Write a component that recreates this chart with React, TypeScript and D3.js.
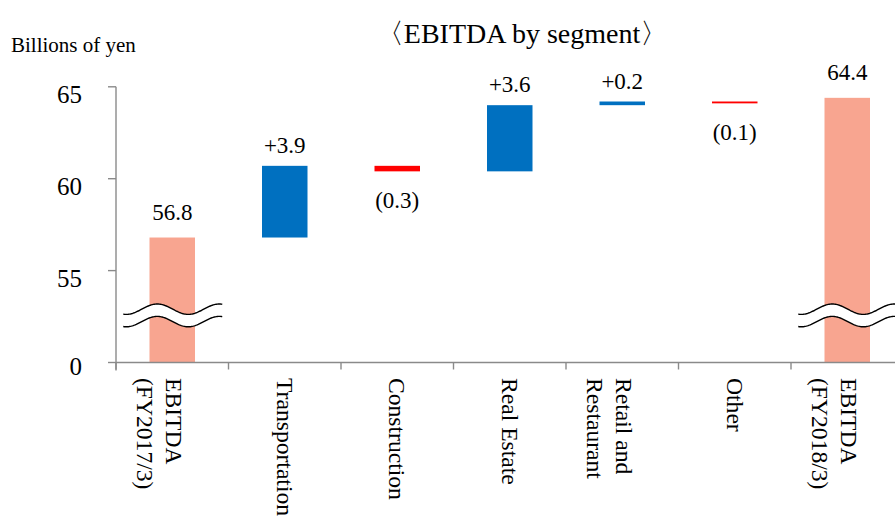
import React from "react";
import * as d3 from "d3";

const categories: string[][] = [
  ["EBITDA", "(FY2017/3)"],
  ["Transportation"],
  ["Construction"],
  ["Real Estate"],
  ["Retail and", "Restaurant"],
  ["Other"],
  ["EBITDA", "(FY2018/3)"],
];
const values: number[] = [56.8, 3.9, -0.3, 3.6, 0.2, -0.1, 64.4];
const isTotal: boolean[] = [true, false, false, false, false, false, true];
const valueLabels: string[] = ["56.8", "+3.9", "(0.3)", "+3.6", "+0.2", "(0.1)", "64.4"];
const yTickValues: number[] = [50, 55, 60, 65];
const yTickLabels: string[] = ["0", "55", "60", "65"];
const axisBase = 50; // broken axis: "0" drawn at 50
const breakValue = 52.9;

const W = 895;
const H = 516;
const FONT = '"Liberation Serif", "Times New Roman", serif';
const AXIS = "#8a8a8a";
const SALMON = "#f8a590";
const BLUE = "#0070c0";
const RED = "#ff0000";

export default function App() {
  const x0 = 116;
  const step = 112.5;
  const x = d3
    .scaleBand<number>()
    .domain(d3.range(categories.length))
    .range([x0, x0 + step * categories.length])
    .paddingInner(0)
    .paddingOuter(0);
  const y = d3.scaleLinear().domain([axisBase, 65]).range([362.5, 86.8]);
  const barW = 45.5;

  let run = 0;
  const segs = values.map((v, i) => {
    if (isTotal[i]) {
      run = v;
      return { lo: axisBase, hi: v, color: SALMON, v };
    }
    const start = run;
    run = run + v;
    return {
      lo: Math.min(start, run),
      hi: Math.max(start, run),
      color: v >= 0 ? BLUE : RED,
      v,
    };
  });

  const baseY = y(axisBase);

  const wave = (c: number) => {
    const x1 = c - 49;
    const x2 = c + 50;
    const mid = y(breakValue);
    const gap = 12.4;
    const A = 5.2;
    const ph = c - 46;
    const up = d3.range(x1, x2 + 0.01, 1).map(
      (xx) => [xx, mid + A * Math.cos((2 * Math.PI * (xx - ph)) / 62)] as [number, number]
    );
    const line = d3.line();
    const low = up.map(([a, b]) => [a, b + gap] as [number, number]);
    const area = d3
      .area<[number, number]>()
      .x((d) => d[0])
      .y0((d) => d[1])
      .y1((d) => d[1] + gap);
    return (
      <g key={"w" + c}>
        <path d={area(up) || ""} fill="#ffffff" />
        <path d={line(up) || ""} fill="none" stroke="#000" strokeWidth={1.4} />
        <path d={line(low) || ""} fill="none" stroke="#000" strokeWidth={1.4} />
      </g>
    );
  };

  return (
    <svg
      width={W}
      height={H}
      style={{ position: "absolute", left: 0, top: 0, background: "#fff" }}
      fontFamily={FONT}
    >
      <rect x={0} y={0} width={W} height={H} fill="#fff" />
      <text x={522} y={43} textAnchor="middle" fontSize={28} fill="#000">
        〈EBITDA by segment〉
      </text>
      <text x={11} y={52} fontSize={21} fill="#000">
        Billions of yen
      </text>

      {segs.map((s, i) => {
        const cx = (x(i) as number) + x.bandwidth() / 2;
        return (
          <rect
            key={"b" + i}
            x={cx - barW / 2}
            y={y(s.hi)}
            width={barW}
            height={Math.max(y(s.lo) - y(s.hi), 0)}
            fill={s.color}
          />
        );
      })}

      {[0, categories.length - 1].map((i) =>
        wave((x(i) as number) + x.bandwidth() / 2)
      )}

      {segs.map((s, i) => {
        const cx = (x(i) as number) + x.bandwidth() / 2;
        let ty: number;
        if (isTotal[i]) ty = y(s.hi) - 18;
        else if (s.v >= 0) ty = y(s.hi) - 13;
        else ty = y(s.lo) + 37;
        return (
          <text
            key={"l" + i}
            x={cx}
            y={ty}
            textAnchor="middle"
            fontSize={23}
            fill="#000"
          >
            {valueLabels[i]}
          </text>
        );
      })}

      <line x1={x0} x2={x0} y1={y(65)} y2={baseY + 8} stroke={AXIS} strokeWidth={1.4} />
      {yTickValues.map((v, i) => (
        <g key={"yt" + i}>
          <line x1={x0 - 8} x2={x0} y1={y(v)} y2={y(v)} stroke={AXIS} strokeWidth={1.4} />
          <text
            x={82}
            y={y(v) + (v === axisBase ? 12.5 : 16.5)}
            textAnchor="end"
            fontSize={25}
            fill="#000"
          >
            {yTickLabels[i]}
          </text>
        </g>
      ))}

      <line x1={x0} x2={W} y1={baseY} y2={baseY} stroke={AXIS} strokeWidth={1.4} />
      {d3.range(categories.length + 1).map((i) => {
        const xx = x0 + i * x.step();
        return (
          <line key={"xt" + i} x1={xx} x2={xx} y1={baseY} y2={baseY + 7} stroke={AXIS} strokeWidth={1.4} />
        );
      })}

      {categories.map((lines, i) => {
        const cx = (x(i) as number) + x.bandwidth() / 2;
        const bx = cx - 7.8 + (lines.length > 1 ? 2 : 0);
        return (
          <g key={"c" + i} transform={`translate(${bx},${378}) rotate(90)`}>
            {lines.map((ln, j) => (
              <text key={j} x={0} y={j * 29} fontSize={23.6} fill="#000">
                {ln}
              </text>
            ))}
          </g>
        );
      })}
    </svg>
  );
}
